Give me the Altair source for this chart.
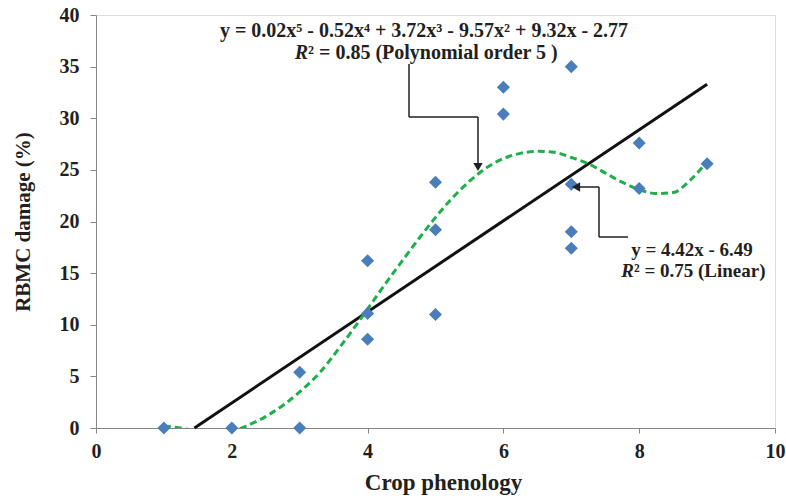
import altair as alt
import pandas as pd

# Observed points
obs_x = [1, 2, 3, 3, 4, 4, 4, 5, 5, 5, 6, 6, 7, 7, 7, 7, 8, 8, 9]
obs_y = [0, 0, 5.4, 0, 16.2, 11.1, 8.6, 23.8, 19.2, 11.0, 33.0, 30.4, 35.0, 23.6, 19.0, 17.4, 27.6, 23.2, 25.6]

# Linear trend line
lin_x = [1.45, 9.0]
lin_y = [0.0, 33.3]

# Polynomial (order 5) trend curve
poly_x = [1.0, 1.25, 1.5, 1.75, 2.0, 2.25, 2.55, 3.0, 3.3, 3.6, 3.9, 4.2, 4.5, 4.75, 5.0, 5.25, 5.5,
          5.75, 6.0, 6.25, 6.5, 6.75, 7.0, 7.25, 7.5, 7.75, 8.0, 8.25, 8.5, 8.75, 9.0]
poly_y = [0.2, 0.0, -0.3, -0.45, -0.3, 0.3, 1.3, 3.5, 5.4, 7.9, 10.6, 13.4, 16.1, 18.3, 20.4, 22.3, 23.9,
          25.2, 26.1, 26.6, 26.8, 26.7, 26.2, 25.6, 24.7, 23.8, 23.1, 22.7, 22.8, 24.0, 25.8]

FONT = "Liberation Serif"
PX0, PY0 = 96, 15  # plot origin in page pixels

df_obs = pd.DataFrame({"x": obs_x, "y": obs_y})
df_lin = pd.DataFrame({"x": lin_x, "y": lin_y})
df_poly = pd.DataFrame({"x": poly_x, "y": poly_y})

xscale = alt.Scale(domain=[0, 10], nice=False)
yscale = alt.Scale(domain=[0, 40], nice=False)

xaxis = alt.Axis(values=[0, 2, 4, 6, 8, 10], format="d", title="Crop phenology", grid=False,
                 domainColor="#868686", tickColor="#868686", tickSize=5,
                 labelFont=FONT, labelFontSize=20, labelFontWeight="bold", labelColor="#231F20",
                 labelPadding=8, titleFont=FONT, titleFontSize=23, titleFontWeight="bold",
                 titleColor="#231F20", titlePadding=10, titleX=347, labelFlush=False)
yaxis = alt.Axis(values=[0, 5, 10, 15, 20, 25, 30, 35, 40], format="d", title="RBMC damage (%)", grid=False,
                 domainColor="#868686", tickColor="#868686", tickSize=6,
                 labelFont=FONT, labelFontSize=20, labelFontWeight="bold", labelColor="#231F20",
                 labelPadding=11, titleFont=FONT, titleFontSize=21, titleFontWeight="bold",
                 titleColor="#231F20", titlePadding=26)

points = alt.Chart(df_obs).mark_point(shape="diamond", filled=True, size=170, color="#4A7EBB", opacity=1).encode(
    x=alt.X("x:Q", scale=xscale, axis=xaxis),
    y=alt.Y("y:Q", scale=yscale, axis=yaxis),
)

lin = alt.Chart(df_lin).mark_line(color="#111111", strokeWidth=3).encode(
    x=alt.X("x:Q", scale=xscale), y=alt.Y("y:Q", scale=yscale))

poly = alt.Chart(df_poly).mark_line(color="#1EAE4A", strokeWidth=3, strokeDash=[7, 4],
                                    interpolate="monotone", clip=True).encode(
    x=alt.X("x:Q", scale=xscale), y=alt.Y("y:Q", scale=yscale))

one = alt.Data(values=[{"a": 1}])


def seg(x1, y1, x2, y2):
    return alt.Chart(one).mark_rule(color="#231F20", strokeWidth=1.5).encode(
        x=alt.value(x1 - PX0), x2=alt.value(x2 - PX0), y=alt.value(y1 - PY0), y2=alt.value(y2 - PY0))


def txt(s, px, py, align="center", italic=False, size=20):
    return alt.Chart(one).mark_text(text=s, font=FONT, fontSize=size, fontWeight="bold",
                                    fontStyle="italic" if italic else "normal", align=align,
                                    baseline="middle", color="#231F20").encode(
        x=alt.value(px - PX0), y=alt.value(py - PY0))


def head(shape, px, py):
    return alt.Chart(one).mark_point(shape=shape, filled=True, size=90, color="#231F20", opacity=1).encode(
        x=alt.value(px - PX0), y=alt.value(py - PY0))


annots = [
    seg(409, 64, 409, 117), seg(409, 117, 478, 117), seg(478, 117, 478, 165), head("triangle-down", 478, 167),
    seg(628, 237, 599, 237), seg(599, 237, 599, 187), seg(599, 187, 578, 187), head("triangle-left", 576, 187),
    txt("y = 0.02x\u2075 - 0.52x\u2074 + 3.72x\u00b3 - 9.57x\u00b2 + 9.32x - 2.77", 424, 31),
    txt("R", 308, 53, align="right", italic=True),
    txt("\u00b2 = 0.85 (Polynomial order 5 )", 308, 53, align="left"),
    txt("y = 4.42x - 6.49", 692, 250, size=19),
    txt("R", 634, 271, align="right", italic=True, size=19),
    txt("\u00b2 = 0.75 (Linear)", 634, 271, align="left", size=19),
]

chart = alt.layer(lin, poly, points, *annots).properties(
    width=679, height=413,
    autosize=alt.AutoSizeParams(type="none"),
    padding={"left": PX0, "top": PY0, "right": 11, "bottom": 71},
).configure_view(stroke=None).configure(background="white")

chart.save("out.html", embed_options={"renderer": "svg", "actions": False})
